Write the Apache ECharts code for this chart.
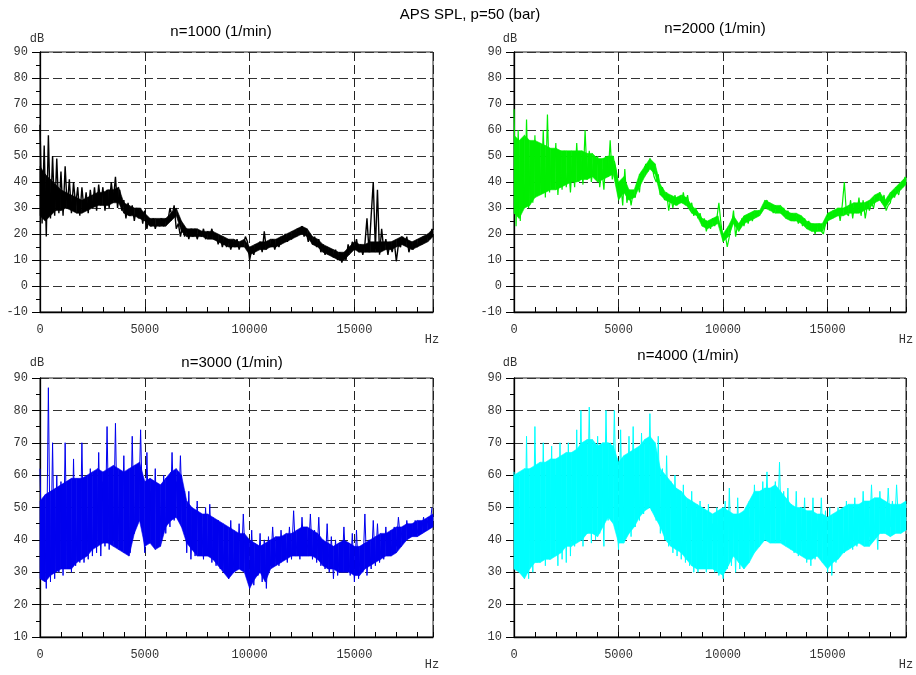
<!DOCTYPE html>
<html><head><meta charset="utf-8">
<script src="https://cdn.jsdelivr.net/npm/echarts@6/dist/echarts.min.js"></script>
<style>html,body{margin:0;padding:0;background:#fff}#c{width:916px;height:675px}</style>
</head><body><div id="c"></div>
<script>
// peak/trough readings every 100 Hz: 0,100,...,18700
const freqStep = 100;
// dense core band readings every 250 Hz: 0,250,...,18750
const bandStep = 250;
const xTicks = [0, 5000, 10000, 15000];
const mainTitle = 'APS SPL, p=50 (bar)';
const subTitles = ['n=1000 (1/min)', 'n=2000 (1/min)', 'n=3000 (1/min)', 'n=4000 (1/min)'];

const spl1000 = [
62,24,54,19,58,26,50,27,49,28,
44,27,46,30,41,28,40,31,38,27,
38,29,36,28,37,30,38,29,39,31,
38,29,37,30,40,33,42,30,37,29,
33,26,32,27,31,25,30,26,30,24,
29,22,26,23,26,22,25,23,26,23,
26,25,30,27,31,22,24,19,23,19,
22,18,22,19,22,18,21,19,22,18,
21,19,22,18,20,16,19,15,18,15,
18,14,17,15,18,14,17,16,19,17,
10,14,12,16,14,17,13,21,14,17,
15,18,14,17,15,18,17,20,17,19,
18,21,19,22,20,23,19,21,17,20,
16,19,15,18,13,16,12,15,12,14,
11,14,10,13,9,12,10,16,13,17,
14,18,13,16,12,16,26,13,27,40,
14,37,12,22,14,18,12,17,13,17,
9.5,16,15,19,16,19,13,16,14,17,
15,18,16,19,17,20,18,22];
const core1000Low = [
27,25,27,29, 29,30,29,28, 28,29,30,31, 31,31,32,32, 28,27,27,26,
25,23,23,23, 23,25,27,21, 19,19,19,19, 18,18,17,16, 15,15,15,15,
12,13,14,14, 15,15,16,17, 18,19,20,19, 16,15,13,12, 11,10,10,12,
14,13,13,13, 13,13,14,14, 15,16,15,14, 15,16,17,19];
const core1000High = [
46,43,41,39, 37,36,35,34, 33,34,35,36, 36,37,37,38, 32,31,30,30,
28,26,26,26, 26,28,30,25, 22,22,22,21, 21,21,20,19, 18,18,17,18,
15,16,17,17, 18,18,19,20, 21,22,23,22, 19,18,16,15, 14,13,13,15,
17,16,16,17, 17,17,17,17, 18,19,18,17, 18,19,20,22];

const spl2000 = [
68,23,60,25,52,30,64,30,55,32,
58,35,50,37,60,34,66,36,52,38,
55,35,48,37,52,38,47,36,50,38,
55,40,48,39,60,41,52,40,47,42,
50,38,45,37,50,42,56,41,48,44,
34,40,31,45,32,37,31,36,34,40,
36,44,43,47,44,49,46,42,40,43,
35,38,33,36,29,34,30,35,31,34,
32,36,31,35,30,32,27,30,26,28,
24,26,21,25,22,26,23,26,32,24,
18,20,15,19,23,29,19,24,22,26,
23,27,24,28,25,28,27,29,28,30,
32,33,30,31,28,31,29,30,28,30,
27,29,26,28,25,27,24,27,23,26,
23,25,22,24,20,23,24,21,20,24,
25,28,26,29,27,30,25,31,40,28,
27,33,26,32,28,34,27,33,26,31,
29,32,30,34,33,36,32,35,29,31,
32,36,34,37,35,39,38,42];
const core2000Low = [
28,26,30,31, 34,35,36,37, 37,38,39,40, 40,41,41,42, 40,41,42,43,
33,36,33,34, 38,42,45,43, 35,33,32,31, 32,31,28,27, 23,22,23,24,
17,19,24,21, 24,25,26,27, 30,29,28,28, 26,25,25,24, 22,21,21,21,
25,26,27,27, 28,28,28,29, 30,32,33,30, 33,35,37,39];
const core2000High = [
58,56,58,56, 56,55,54,53, 53,52,52,52, 52,52,51,51, 49,49,50,50,
40,42,37,37, 43,46,49,47, 39,36,35,34, 35,34,31,29, 26,25,26,27,
20,23,27,24, 27,28,29,29, 33,32,31,31, 29,28,28,27, 25,24,24,24,
28,29,30,30, 31,32,32,32, 33,35,36,33, 36,38,40,42];

const spl3000 = [
62,30,52,25,87,27,70,28,60,30,
58,29,70,31,52,30,65,32,48,33,
70,33,55,34,62,35,52,36,67,35,
58,38,75,37,60,40,76,38,55,40,
66,38,52,36,72,42,60,46,74,47,
36,67,40,55,42,62,38,52,40,60,
42,56,44,67,46,58,47,66,45,55,
36,55,34,48,35,52,36,45,34,50,
35,51,33,44,32,46,31,40,30,43,
28,46,30,38,32,45,31,48,33,40,
25,43,26,38,29,42,27,40,25,41,
32,44,33,39,32,43,34,41,33,44,
34,49,35,42,34,47,36,43,35,48,
34,43,33,47,32,40,31,45,30,41,
28,40,29,37,30,44,31,38,29,42,
27,43,28,38,30,48,29,40,31,46,
32,45,33,40,34,44,35,41,36,44,
38,47,40,44,40,46,41,44,42,46,
42,45,43,47,43,46,44,50];
const core3000Low = [
28,27,29,30, 31,31,31,33, 34,35,37,38, 39,39,38,37, 36,35,42,46,
38,39,37,38, 44,46,47,44, 39,37,35,35, 35,34,32,30, 28,30,31,30,
25,28,30,27, 31,32,33,34, 35,35,35,35, 35,34,32,31, 31,30,30,30,
29,29,31,32, 33,34,35,35, 36,38,40,41, 41,42,43,44];
const core3000High = [
52,54,55,56, 57,58,59,59, 59,60,61,62, 61,62,63,62, 61,62,63,64,
58,59,58,57, 59,61,62,60, 52,50,49,48, 48,47,46,45, 44,43,42,42,
40,39,38,39, 40,41,41,42, 42,43,44,44, 43,42,40,39, 38,39,40,39,
38,38,39,40, 41,42,42,43, 44,44,45,45, 46,46,47,48];

const spl4000 = [
61,35,56,30,60,29,72,28,62,30,
75,33,60,34,70,32,58,34,69,35,
60,32,70,34,62,33,70,35,65,38,
74,40,80,38,66,42,81,39,70,40,
72,42,62,38,80,46,70,46,80,48,
37,74,40,64,42,72,41,75,44,66,
46,73,48,68,50,79,49,70,46,72,
42,62,40,66,38,58,36,60,35,54,
34,57,33,50,32,55,30,47,30,52,
31,48,30,51,32,45,30,50,29,47,
28,52,31,56,32,48,30,53,31,46,
32,50,34,47,36,57,39,52,41,58,
42,61,41,52,40,58,42,64,40,55,
40,56,38,50,36,55,35,48,36,53,
33,48,32,53,34,46,37,53,36,49,
30,50,29,46,33,50,35,45,36,52,
38,47,37,53,38,49,39,55,40,50,
41,57,40,49,37,55,42,50,43,56,
44,52,43,57,44,50,45,48];
const core4000Low = [
31,30,28,31, 33,33,34,34, 35,36,38,38, 39,40,42,42, 41,44,47,45,
39,39,42,44, 47,49,50,47, 44,40,38,37, 36,34,32,31, 31,31,31,30,
29,32,35,33, 31,33,36,38, 40,39,39,39, 38,37,36,35, 34,34,35,33,
31,33,34,36, 37,38,39,38, 38,40,42,42, 41,42,42,43];
const core4000High = [
60,61,62,62, 63,64,64,65, 65,66,67,67, 68,70,71,71, 69,70,70,69,
64,66,67,68, 69,71,72,70, 62,60,58,56, 55,53,52,51, 50,49,48,49,
50,49,48,48, 49,52,55,55, 56,56,57,55, 53,51,50,50, 49,49,48,48,
47,48,49,50, 51,51,51,52, 52,53,53,52, 51,51,51,52];

const seriesData = [spl1000, spl2000, spl3000, spl4000];
const coreLow = [core1000Low, core2000Low, core3000Low, core4000Low];
const coreHigh = [core1000High, core2000High, core3000High, core4000High];
const colors = ['#000000', '#00ee00', '#0000ee', '#00ffff'];
const lineWidths = [1.4, 1.2, 1, 1];
const yRanges = [[-10, 90], [-10, 90], [10, 90], [10, 90]];

const grids = [
  {left: 40, top: 52, width: 393, height: 260},
  {left: 514, top: 52, width: 392, height: 260},
  {left: 40, top: 378, width: 393, height: 259},
  {left: 514, top: 378, width: 392, height: 259}
];
const subTitlePos = [[221, 24], [715, 21], [232, 355], [688, 348]];
const dbPos = [[37, 39], [510, 39], [37, 363], [510, 363]];
const hzPos = [[432, 340], [906, 340], [432, 665], [906, 665]];

const mono = 'Liberation Mono';
const sans = 'Liberation Sans';

function bandSeries(i) {
  const band = coreLow[i].map((v, k) => [k * bandStep, v, coreHigh[i][k]]);
  return {
    type: 'custom', xAxisIndex: i, yAxisIndex: i, silent: true,
    encode: {x: 0, y: [1, 2]},
    data: band,
    renderItem: (params, api) => {
      const k = params.dataIndex;
      if (k >= band.length - 1) return null;
      const a = band[k], b = band[k + 1];
      const pts = [api.coord([a[0], a[1]]), api.coord([a[0], a[2]]),
                   api.coord([b[0], b[2]]), api.coord([b[0], b[1]])];
      return {type: 'polygon', shape: {points: pts},
        style: {fill: colors[i], stroke: colors[i], lineWidth: 0.6}};
    }
  };
}

const xAxes = [], yAxes = [], series = [], graphics = [];
grids.forEach((g, i) => {
  g.show = true; g.borderColor = '#222'; g.borderWidth = 1; g.containLabel = false;
  xAxes.push({
    type: 'value', gridIndex: i, min: 0, max: 18750, interval: 5000, position: 'bottom',
    axisLine: {show: true, onZero: false, lineStyle: {color: '#000', width: 1.3}},
    axisTick: {show: false},
    axisLabel: {show: true, showMaxLabel: false, margin: 12, color: '#333', fontFamily: mono, fontSize: 12,
      formatter: v => xTicks.indexOf(v) >= 0 ? String(v) : ''},
    splitLine: {show: true, lineStyle: {color: '#222', type: [9, 4], width: 1}}
  });
  yAxes.push({
    type: 'value', gridIndex: i, min: yRanges[i][0], max: yRanges[i][1], interval: 10,
    axisLine: {show: true, onZero: false, lineStyle: {color: '#000', width: 1.3}},
    axisTick: {show: true, length: 8, lineStyle: {color: '#000'}},
    minorTick: {show: true, splitNumber: 2, length: 4, lineStyle: {color: '#000'}},
    axisLabel: {margin: 12, color: '#333', fontFamily: mono, fontSize: 12},
    splitLine: {show: true, lineStyle: {color: '#333', type: [9, 4], width: 1}}
  });
  series.push(bandSeries(i));
  series.push({
    type: 'line', xAxisIndex: i, yAxisIndex: i, symbol: 'none',
    sampling: false,
    lineStyle: {color: colors[i], width: lineWidths[i]},
    data: seriesData[i].map((v, k) => [k * freqStep, v])
  });
  graphics.push({type: 'text', x: subTitlePos[i][0], y: subTitlePos[i][1],
    style: {text: subTitles[i], font: '15px ' + sans, fill: '#000', textAlign: 'center'}});
  graphics.push({type: 'text', x: dbPos[i][0], y: dbPos[i][1],
    style: {text: 'dB', font: '12px ' + mono, fill: '#333', textAlign: 'center', textVerticalAlign: 'middle'}});
  graphics.push({type: 'text', x: hzPos[i][0], y: hzPos[i][1],
    style: {text: 'Hz', font: '12px ' + mono, fill: '#333', textAlign: 'center', textVerticalAlign: 'middle'}});
});
// 1000 Hz minor tick axes along the bottom edge
grids.forEach((g, i) => {
  xAxes.push({
    type: 'value', gridIndex: i, min: 0, max: 18750, interval: 1000, position: 'bottom',
    axisLine: {show: false, onZero: false}, axisLabel: {show: false}, splitLine: {show: false},
    axisTick: {show: true, inside: true, length: 5, lineStyle: {color: '#000'}}
  });
});
graphics.push({type: 'text', x: 470, y: 7,
  style: {text: mainTitle, font: '15px ' + sans, fill: '#000', textAlign: 'center'}});

const chart = echarts.init(document.getElementById('c'), null, {renderer: 'canvas'});
chart.setOption({
  backgroundColor: '#fff',
  animation: false,
  grid: grids, xAxis: xAxes, yAxis: yAxes, series: series,
  graphic: graphics
});
</script></body></html>
